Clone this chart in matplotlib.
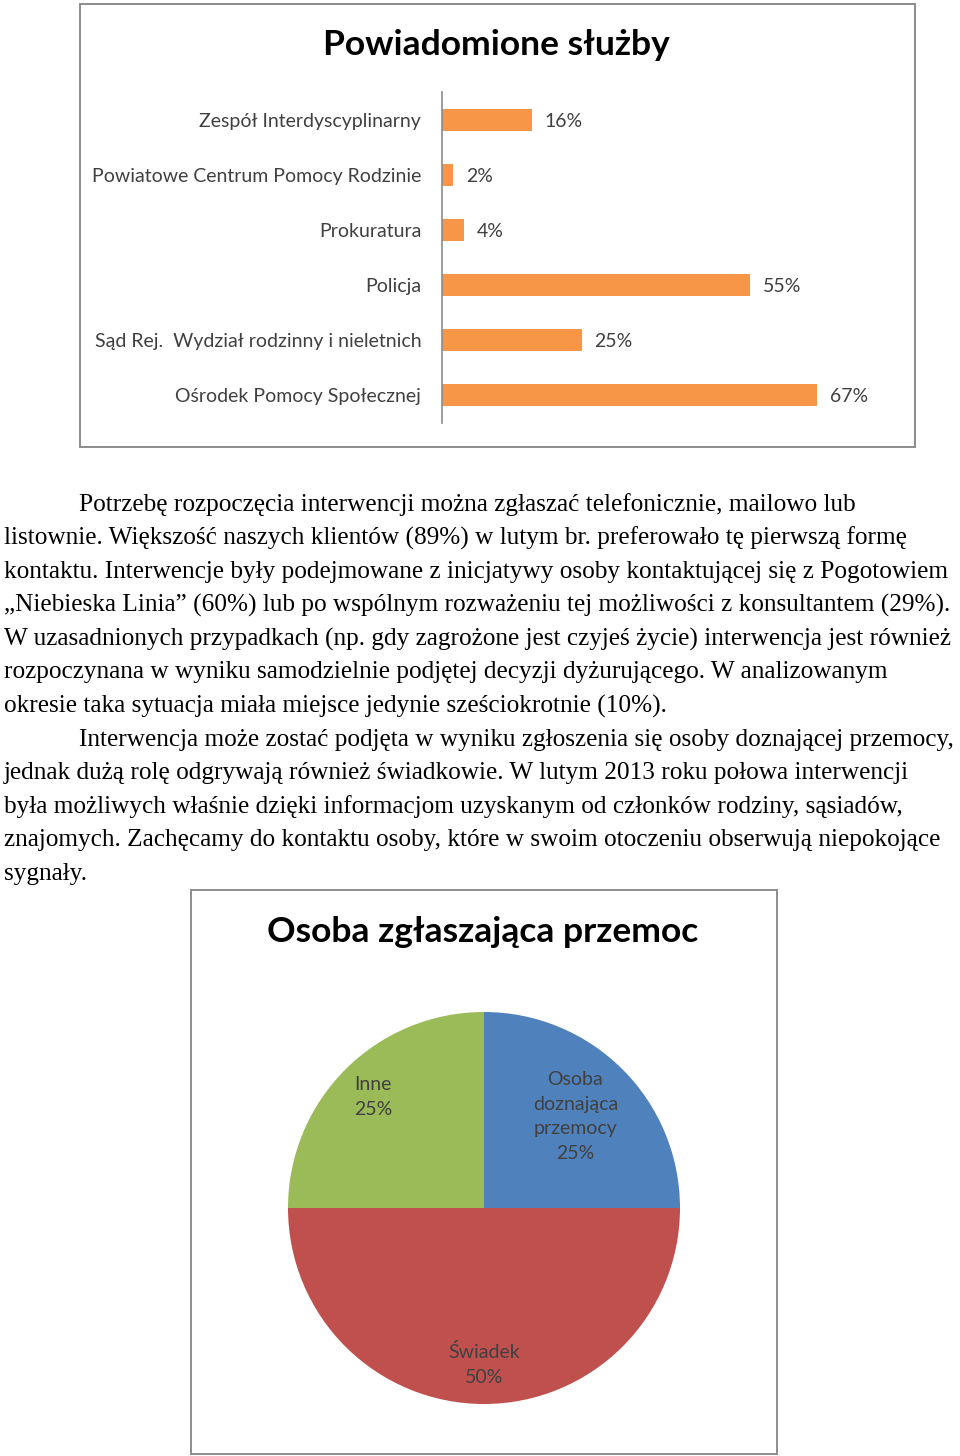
import matplotlib
matplotlib.use("Agg")
import matplotlib.pyplot as plt
import numpy as np
from matplotlib.patches import Rectangle

# ---------------- data ----------------
bar_categories = [
    "Zespół Interdyscyplinarny",
    "Powiatowe Centrum Pomocy Rodzinie",
    "Prokuratura",
    "Policja",
    "Sąd Rej.  Wydział rodzinny i nieletnich",
    "Ośrodek Pomocy Społecznej",
]
bar_values = [16, 2, 4, 55, 25, 67]
bar_title = "Powiadomione służby"

pie_labels = ["Osoba\ndoznająca\nprzemocy", "Świadek", "Inne"]
pie_values = [25, 50, 25]
pie_title = "Osoba zgłaszająca przemoc"

paragraph_lines = [
    ("Potrzebę rozpoczęcia interwencji można zgłaszać telefonicznie, mailowo lub", True),
    ("listownie. Większość naszych klientów (89%) w lutym br. preferowało tę pierwszą formę", False),
    ("kontaktu. Interwencje były podejmowane z inicjatywy osoby kontaktującej się z Pogotowiem", False),
    ("„Niebieska Linia” (60%) lub po wspólnym rozważeniu tej możliwości z konsultantem (29%).", False),
    ("W uzasadnionych przypadkach (np. gdy zagrożone jest czyjeś życie) interwencja jest również", False),
    ("rozpoczynana w wyniku samodzielnie podjętej decyzji dyżurującego. W analizowanym", False),
    ("okresie taka sytuacja miała miejsce jedynie sześciokrotnie (10%).", False),
    ("Interwencja może zostać podjęta w wyniku zgłoszenia się osoby doznającej przemocy,", True),
    ("jednak dużą rolę odgrywają również świadkowie. W lutym 2013 roku połowa interwencji", False),
    ("była możliwych właśnie dzięki informacjom uzyskanym od członków rodziny, sąsiadów,", False),
    ("znajomych. Zachęcamy do kontaktu osoby, które w swoim otoczeniu obserwują niepokojące", False),
    ("sygnały.", False),
]

# ---------------- layout helpers ----------------
W, H = 960, 1456
fig = plt.figure(figsize=(W / 100, H / 100), dpi=100)
fig.patch.set_facecolor("white")


def fx(x):
    return x / W


def fy(y):
    return 1 - y / H


def frame(x0, y0, x1, y1):
    fig.add_artist(Rectangle((fx(x0), fy(y1)), fx(x1) - fx(x0), fy(y0) - fy(y1),
                             transform=fig.transFigure, fill=False,
                             edgecolor="#8c8c8c", linewidth=1.4))


chart_font = ["Lato", "DejaVu Sans"]
label_color = "#404040"
orange = "#F79646"

# ---------------- bar chart ----------------
frame(80, 4, 915, 447)
fig.text(fx(496), fy(45), bar_title, ha="center", va="center",
         fontsize=25.5, fontweight="bold", family=chart_font, color="black")

ax = fig.add_axes([fx(442), fy(423), fx(890) - fx(442), fy(92) - fy(423)])
ypos = np.arange(len(bar_categories))
ax.barh(ypos, bar_values, height=0.4, color=orange)
ax.set_ylim(len(bar_categories) - 0.5, -0.5)
ax.set_xlim(0, 80)
ax.set_yticks(ypos)
ax.set_yticklabels(bar_categories, family=chart_font, fontsize=14, color=label_color,
                   va="center_baseline")
ax.tick_params(axis="y", length=0, pad=15)
ax.set_xticks([])
for s in ["top", "right", "bottom"]:
    ax.spines[s].set_visible(False)
ax.spines["left"].set_color("#8c8c8c")
ax.spines["left"].set_linewidth(1.2)
for y, v in zip(ypos, bar_values):
    ax.annotate(f"{v}%", (v, y), xytext=(9, 0), textcoords="offset points",
                ha="left", va="center_baseline", family=chart_font, fontsize=14,
                color=label_color)

# ---------------- paragraph text ----------------
line_y0 = 502
line_step = 33.6
for i, (line, indent) in enumerate(paragraph_lines):
    x = 79 if indent else 4
    fig.text(fx(x), fy(line_y0 + i * line_step), line, ha="left", va="center_baseline",
             family=["Liberation Serif", "DejaVu Serif"], fontsize=18.2,
             color="black")

# ---------------- pie chart ----------------
frame(191, 890, 777, 1454)
fig.text(fx(483), fy(932), pie_title, ha="center", va="center",
         fontsize=25.5, fontweight="bold", family=chart_font, color="black")

R = 196
cx, cy = 484, 1208
pax = fig.add_axes([fx(cx - R), fy(cy + R), fx(2 * R), (2 * R) / H])
pie_colors = ["#4F81BD", "#C0504D", "#9BBB59"]
wedges, _ = pax.pie(pie_values, colors=pie_colors, startangle=90,
                    counterclock=False, radius=1.0,
                    wedgeprops=dict(linewidth=0))
pax.set_xlim(-1, 1)
pax.set_ylim(-1, 1)
pax.set_aspect("equal")
pax.axis("off")
label_dist = [0.66, 0.80, 0.80]
for w, lab, v, d in zip(wedges, pie_labels, pie_values, label_dist):
    ang = np.deg2rad((w.theta1 + w.theta2) / 2)
    pax.text(d * np.cos(ang), d * np.sin(ang), f"{lab}\n{v}%", ha="center",
             va="center", family=chart_font, fontsize=14, color=label_color,
             linespacing=1.55)

fig.savefig("out.png", dpi=100, facecolor="white")
